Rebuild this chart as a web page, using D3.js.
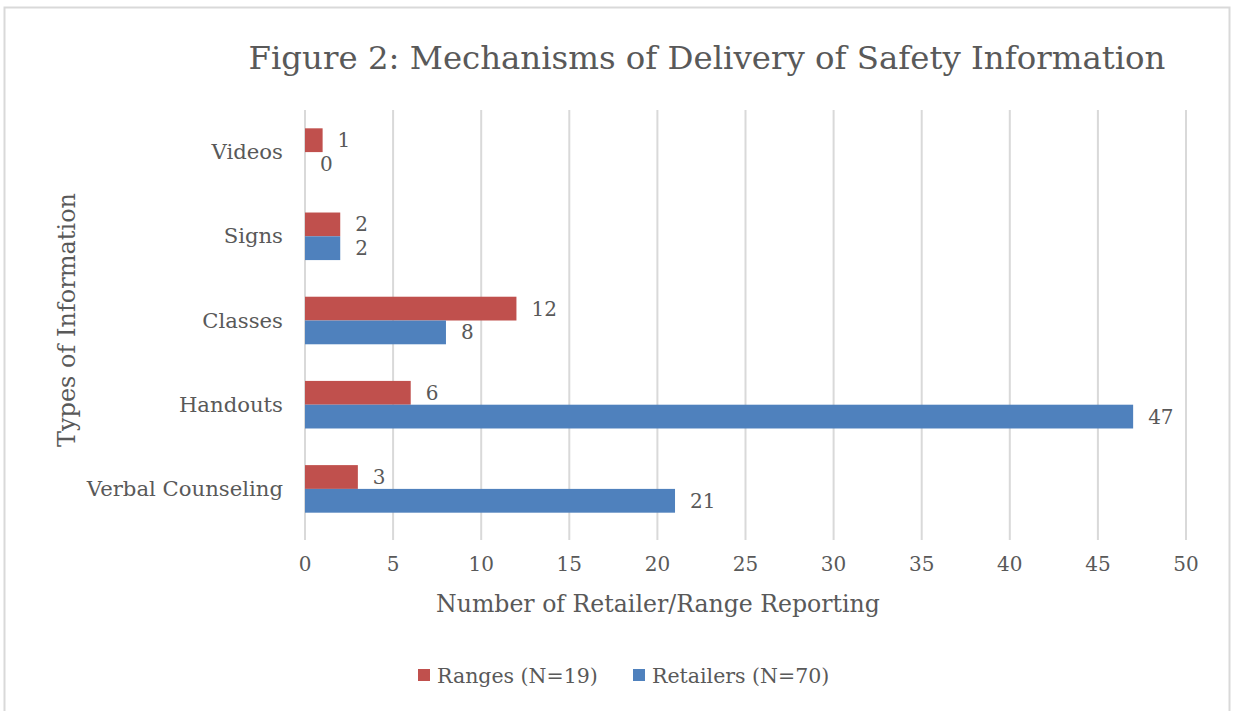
<!DOCTYPE html>
<html>
<head>
<meta charset="utf-8">
<script src="https://cdn.jsdelivr.net/npm/d3@7"></script>
<style>
  body { margin: 0; background: #fff; }
  text { fill: #595959; font-family: "DejaVu Serif", serif; }
</style>
</head>
<body>
<div id="chart"></div>
<script>
const categories = ["Videos", "Signs", "Classes", "Handouts", "Verbal Counseling"];
const ranges = [1, 2, 12, 6, 3];
const retailers = [0, 2, 8, 47, 21];
const seriesNames = ["Ranges (N=19)", "Retailers (N=70)"];
const xTicks = [0, 5, 10, 15, 20, 25, 30, 35, 40, 45, 50];

const W = 1235, H = 711;
const margin = {left: 305, right: 49, top: 110, bottom: 180};
const colors = ["#C0504D", "#4F81BD"];

const svg = d3.select("#chart").append("svg")
    .attr("width", W).attr("height", H);

// chart frame
svg.append("rect")
   .attr("x", 4.5).attr("y", 7.5)
   .attr("width", 1225).attr("height", 710)
   .attr("fill", "#fff")
   .attr("stroke", "#d9d9d9").attr("stroke-width", 2);

const x = d3.scaleLinear().domain([0, 50]).range([margin.left, W - margin.right]);
const y = d3.scaleBand().domain(categories).range([margin.top, H - margin.bottom]);
const inner = d3.scaleBand().domain([0, 1]).range([0, y.bandwidth()]).paddingOuter(0.77);

// gridlines
svg.append("g")
   .selectAll("line")
   .data(xTicks)
   .enter()
   .append("line")
   .attr("x1", d => x(d)).attr("x2", d => x(d))
   .attr("y1", margin.top).attr("y2", H - margin.bottom + 9)
   .attr("stroke", "#d9d9d9").attr("stroke-width", 2);

// tick labels
svg.append("g")
   .selectAll("text")
   .data(xTicks)
   .enter()
   .append("text")
   .attr("x", d => x(d)).attr("y", 571)
   .attr("text-anchor", "middle")
   .attr("font-size", 20)
   .text(d => d);

// bars + value labels
const series = [ranges, retailers];
series.forEach((vals, si) => {
    svg.append("g")
       .selectAll("rect")
       .data(vals)
       .enter()
       .append("rect")
       .attr("x", x(0))
       .attr("y", (d, i) => y(categories[i]) + inner(si))
       .attr("width", d => x(d) - x(0))
       .attr("height", inner.bandwidth())
       .attr("fill", colors[si]);

    svg.append("g")
       .selectAll("text")
       .data(vals)
       .enter()
       .append("text")
       .attr("x", d => x(d) + 15)
       .attr("y", (d, i) => y(categories[i]) + inner(si) + inner.bandwidth() / 2 + 7)
       .attr("font-size", 20)
       .text(d => d);
});

// category labels
svg.append("g")
   .selectAll("text")
   .data(categories)
   .enter()
   .append("text")
   .attr("x", 283)
   .attr("y", d => y(d) + y.bandwidth() / 2 + 7)
   .attr("text-anchor", "end")
   .attr("font-size", 21.2)
   .text(d => d);

// title
svg.append("text")
   .attr("x", 707).attr("y", 69)
   .attr("text-anchor", "middle")
   .attr("font-size", 32.4)
   .text("Figure 2: Mechanisms of Delivery of Safety Information");

// axis titles
svg.append("text")
   .attr("x", 658).attr("y", 612)
   .attr("text-anchor", "middle")
   .attr("font-size", 23.6)
   .text("Number of Retailer/Range Reporting");

svg.append("text")
   .attr("transform", "translate(75,320) rotate(-90)")
   .attr("text-anchor", "middle")
   .attr("font-size", 24)
   .text("Types of Information");

// legend
const legendX = [418, 633];
const legend = svg.append("g")
   .selectAll("g")
   .data(seriesNames)
   .enter()
   .append("g")
   .attr("transform", (d, i) => `translate(${legendX[i]},669)`);
legend.append("rect")
   .attr("width", 12).attr("height", 12)
   .attr("fill", (d, i) => colors[i]);
legend.append("text")
   .attr("x", 19).attr("y", 14)
   .attr("font-size", 20.5)
   .text(d => d);
</script>
</body>
</html>
